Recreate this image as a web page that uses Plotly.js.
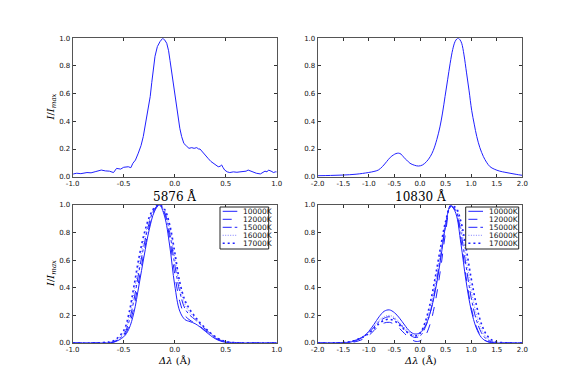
<!DOCTYPE html>
<html>
<head>
<meta charset="utf-8">
<script src="https://cdn.plot.ly/plotly-3.0.1.min.js"></script>
<style>html,body{margin:0;padding:0;background:#fff;}#chart{width:580px;height:382px;}</style>
</head>
<body>
<div id="chart"></div>
<script>
// ---- Data ----
// Top-left: observed He I 5876 profile
const obs5876X = [-1.0,-0.994,-0.96,-0.92,-0.86,-0.82,-0.78,-0.75,-0.72,-0.68,-0.64,-0.60,-0.57,-0.53,-0.50,-0.455,-0.43,-0.41,-0.385,-0.357,-0.33,-0.308,-0.285,-0.26,-0.24,-0.225,-0.21,-0.193,-0.17,-0.144,-0.118,-0.10,-0.078,-0.06,-0.046,-0.02,0.003,0.02,0.035,0.05,0.068,0.09,0.118,0.14,0.167,0.19,0.216,0.235,0.248,0.265,0.28,0.30,0.33,0.355,0.38,0.40,0.427,0.445,0.46,0.475,0.49,0.515,0.54,0.575,0.61,0.64,0.67,0.70,0.72,0.745,0.77,0.80,0.84,0.865,0.885,0.905,0.92,0.945,0.97,0.985,1.0];
const obs5876Y = [0.015,0.02,0.025,0.022,0.03,0.028,0.036,0.04,0.048,0.042,0.04,0.03,0.06,0.055,0.068,0.072,0.065,0.097,0.12,0.17,0.225,0.29,0.38,0.48,0.58,0.68,0.77,0.87,0.94,0.976,1.0,0.99,0.964,0.91,0.84,0.71,0.58,0.48,0.41,0.35,0.29,0.24,0.22,0.205,0.21,0.205,0.21,0.2,0.2,0.185,0.17,0.15,0.13,0.11,0.097,0.085,0.072,0.075,0.085,0.065,0.048,0.035,0.03,0.035,0.032,0.035,0.036,0.04,0.048,0.04,0.03,0.025,0.02,0.03,0.04,0.035,0.048,0.04,0.03,0.035,0.035];

// Top-right: observed He I 10830 profile
const obs10830X = [-2.0,-1.75,-1.5,-1.25,-1.01,-0.9,-0.815,-0.73,-0.65,-0.58,-0.52,-0.47,-0.42,-0.37,-0.33,-0.26,-0.195,-0.11,-0.03,0.05,0.13,0.2,0.26,0.33,0.39,0.44,0.49,0.54,0.59,0.64,0.685,0.72,0.75,0.78,0.815,0.86,0.91,0.96,1.01,1.06,1.11,1.17,1.24,1.3,1.37,1.45,1.56,1.66,1.76,1.88,2.0];
const obs10830Y = [0.007,0.009,0.012,0.018,0.03,0.038,0.048,0.075,0.11,0.14,0.157,0.167,0.17,0.163,0.145,0.12,0.097,0.083,0.077,0.085,0.11,0.145,0.19,0.27,0.36,0.46,0.58,0.70,0.82,0.92,0.976,0.995,1.0,0.99,0.964,0.88,0.75,0.62,0.48,0.38,0.29,0.21,0.145,0.105,0.072,0.055,0.04,0.032,0.025,0.017,0.01];

// Bottom-left: model profiles 5876
const mod5876X = [-1.0,-0.7,-0.6,-0.5,-0.45,-0.4,-0.35,-0.3,-0.25,-0.2,-0.15,-0.1,-0.05,0.0,0.05,0.1,0.15,0.2,0.25,0.3,0.35,0.4,0.45,0.5,0.6,0.7,1.0];
const m5876_10000 = [0,0,0.005,0.045,0.1,0.22,0.42,0.63,0.82,0.95,1.0,0.92,0.71,0.42,0.23,0.17,0.155,0.14,0.115,0.085,0.055,0.03,0.014,0.005,0.001,0,0];
const m5876_12000 = [0,0.001,0.007,0.05,0.12,0.26,0.46,0.66,0.84,0.96,1.0,0.94,0.76,0.5,0.3,0.2,0.165,0.145,0.12,0.09,0.06,0.035,0.017,0.007,0.001,0,0];
const m5876_15000 = [0,0.002,0.009,0.06,0.15,0.31,0.52,0.71,0.87,0.97,1.0,0.95,0.8,0.57,0.37,0.25,0.2,0.17,0.135,0.1,0.068,0.04,0.02,0.009,0.002,0,0];
const m5876_16000 = [0,0.003,0.012,0.075,0.18,0.36,0.57,0.75,0.89,0.975,1.0,0.96,0.83,0.62,0.41,0.28,0.22,0.18,0.14,0.105,0.07,0.043,0.022,0.01,0.002,0,0];
const m5876_17000 = [0,0.004,0.016,0.09,0.21,0.41,0.62,0.79,0.91,0.98,1.0,0.97,0.86,0.66,0.44,0.31,0.24,0.19,0.145,0.108,0.073,0.045,0.024,0.011,0.002,0,0];

// Bottom-right: model profiles 10830
const mod10830X = [-2.0,-1.5,-1.3,-1.1,-1.0,-0.9,-0.8,-0.7,-0.6,-0.5,-0.4,-0.3,-0.2,-0.1,0.0,0.1,0.2,0.3,0.4,0.5,0.6,0.7,0.8,0.9,1.0,1.1,1.2,1.3,1.4,1.5,1.7,2.0];
const m10830_10000 = [0,0.002,0.012,0.05,0.085,0.135,0.19,0.23,0.24,0.22,0.18,0.13,0.085,0.065,0.075,0.12,0.22,0.38,0.6,0.85,1.0,0.94,0.72,0.45,0.24,0.11,0.04,0.012,0.003,0,0,0];
const m10830_12000 = [0,0.001,0.006,0.03,0.055,0.09,0.125,0.145,0.15,0.135,0.105,0.068,0.035,0.013,0.015,0.05,0.14,0.3,0.53,0.8,0.99,0.95,0.75,0.48,0.26,0.12,0.045,0.014,0.004,0.001,0,0];
const m10830_15000 = [0,0.003,0.014,0.045,0.075,0.115,0.155,0.18,0.19,0.175,0.14,0.1,0.06,0.04,0.05,0.11,0.22,0.4,0.62,0.85,0.99,0.96,0.8,0.56,0.33,0.17,0.075,0.028,0.009,0.002,0,0];
const m10830_16000 = [0,0.004,0.017,0.05,0.08,0.12,0.165,0.19,0.2,0.185,0.15,0.11,0.072,0.05,0.065,0.135,0.26,0.44,0.66,0.87,0.99,0.97,0.84,0.62,0.39,0.21,0.1,0.04,0.014,0.004,0,0];
const m10830_17000 = [0,0.004,0.016,0.045,0.07,0.105,0.14,0.165,0.172,0.16,0.13,0.095,0.065,0.05,0.07,0.15,0.29,0.48,0.69,0.88,0.99,0.98,0.88,0.69,0.47,0.28,0.14,0.06,0.022,0.007,0.001,0];

const seriesNames = ["10000K","12000K","15000K","16000K","17000K"];
const yTickVals = [0,0.2,0.4,0.6,0.8,1.0];
const yTickText = ["0.0","0.2","0.4","0.6","0.8","1.0"];
const xTickValsNarrow = [-1.0,-0.5,0.0,0.5,1.0];
const xTickTextNarrow = ["-1.0","-0.5","0.0","0.5","1.0"];
const xTickValsWide = [-2.0,-1.5,-1.0,-0.5,0.0,0.5,1.0,1.5,2.0];
const xTickTextWide = ["-2.0","-1.5","-1.0","-0.5","0.0","0.5","1.0","1.5","2.0"];

// ---- Styling ----
const BLUE = "#2020ff";
const dashes = ["solid","dash","dashdot","1px,1.5px","2px,3px"];
const widths = [1,1,1,0.9,1.6];
const colors = [BLUE,BLUE,BLUE,"#7070ff",BLUE];
const m5876 = [m5876_10000,m5876_12000,m5876_15000,m5876_16000,m5876_17000];
const m10830 = [m10830_10000,m10830_12000,m10830_15000,m10830_16000,m10830_17000];

const traces = [];
traces.push({x: obs5876X, y: obs5876Y, xaxis:"x", yaxis:"y", mode:"lines", line:{color:BLUE,width:1}, showlegend:false});
traces.push({x: obs10830X, y: obs10830Y, xaxis:"x2", yaxis:"y2", mode:"lines", line:{color:BLUE,width:1,shape:"spline"}, showlegend:false});
for (let i=0;i<5;i++){
  traces.push({x: mod5876X, y: m5876[i], xaxis:"x3", yaxis:"y3", mode:"lines", name: seriesNames[i],
    line:{color:colors[i],width:widths[i],dash:dashes[i],shape:"spline"}, showlegend:false});
}
for (let i=0;i<5;i++){
  traces.push({x: mod10830X, y: m10830[i], xaxis:"x4", yaxis:"y4", mode:"lines", name: seriesNames[i],
    line:{color:colors[i],width:widths[i],dash:dashes[i],shape:"spline"}, showlegend:false});
}

const W=580, H=382;
const px = v => v/W, py = v => 1 - v/H;
const tickFont = {family:"DejaVu Sans", size:7, color:"#111"};
function xax(domain, range, tv, tt, anchor){
  return {domain, range, anchor, tickvals:tv, ticktext:tt, ticks:"inside", ticklen:3, tickcolor:"#333",
    showline:true, linecolor:"#555", linewidth:1, mirror:"ticks", showgrid:false, zeroline:false,
    tickfont:tickFont, fixedrange:true};
}
function yax(domain, anchor){
  return {domain, range:[0,1], anchor, tickvals:yTickVals, ticktext:yTickText, ticks:"inside", ticklen:3, tickcolor:"#333",
    showline:true, linecolor:"#555", linewidth:1, mirror:"ticks", showgrid:false, zeroline:false,
    tickfont:tickFont, fixedrange:true};
}
const dxL = [px(72.7), px(276.7)], dxR = [px(317.7), px(522.3)];
const dyT = [py(176.7), py(38.3)], dyB = [py(343), py(205)];

const serif = "DejaVu Serif";
const ylab = "<i>I</i>/<i>I</i><sub><i>max</i></sub>";
const annotations = [
  {text:"5876 Å", x:px(174.7), y:py(196), xref:"paper", yref:"paper", showarrow:false, xanchor:"center", yanchor:"middle", font:{family:serif,size:12,color:"#000"}},
  {text:"10830 Å", x:px(420), y:py(196), xref:"paper", yref:"paper", showarrow:false, xanchor:"center", yanchor:"middle", font:{family:serif,size:12,color:"#000"}},
  {text:ylab, x:px(51), y:py(107.5), xref:"paper", yref:"paper", showarrow:false, textangle:-90, xanchor:"center", yanchor:"middle", font:{family:serif,size:10,color:"#000"}},
  {text:ylab, x:px(51), y:py(274), xref:"paper", yref:"paper", showarrow:false, textangle:-90, xanchor:"center", yanchor:"middle", font:{family:serif,size:10,color:"#000"}},
  {text:"<i>Δλ</i> (Å)", x:px(174.7), y:py(360), xref:"paper", yref:"paper", showarrow:false, xanchor:"center", yanchor:"middle", font:{family:serif,size:10,color:"#000"}},
  {text:"<i>Δλ</i> (Å)", x:px(420), y:py(360), xref:"paper", yref:"paper", showarrow:false, xanchor:"center", yanchor:"middle", font:{family:serif,size:10,color:"#000"}}
];
const shapes = [];
// Custom compact legends (matplotlib style) for the two model panels
const legendBoxes = [{x0:220, x1:268.7, sx0:222.7, sx1:237.3, tx:240.5}, {x0:465.7, x1:518.7, sx0:468.4, sx1:483, tx:486.5}];
const rowY = [211.3, 219.3, 227.3, 235.3, 243.3];
legendBoxes.forEach(b => {
  shapes.push({type:"rect", xref:"paper", yref:"paper", x0:px(b.x0), x1:px(b.x1), y0:py(249), y1:py(207),
    line:{color:"#222", width:1}, fillcolor:"#fff", layer:"above"});
  for (let i=0;i<5;i++){
    shapes.push({type:"line", xref:"paper", yref:"paper", x0:px(b.sx0), x1:px(b.sx1), y0:py(rowY[i]), y1:py(rowY[i]),
      line:{color:colors[i], width:widths[i], dash:dashes[i]}, layer:"above"});
    annotations.push({text:seriesNames[i], x:px(b.tx), y:py(rowY[i]), xref:"paper", yref:"paper", showarrow:false,
      xanchor:"left", yanchor:"middle", font:{family:"DejaVu Sans", size:7.5, color:"#111"}});
  }
});

const layout = {
  width:W, height:H, margin:{l:0,r:0,t:0,b:0}, paper_bgcolor:"#fff", plot_bgcolor:"#fff", showlegend:false,
  xaxis: xax(dxL,[-1,1],xTickValsNarrow,xTickTextNarrow,"y"),
  yaxis: yax(dyT,"x"),
  xaxis2: xax(dxR,[-2,2],xTickValsWide,xTickTextWide,"y2"),
  yaxis2: yax(dyT,"x2"),
  xaxis3: xax(dxL,[-1,1],xTickValsNarrow,xTickTextNarrow,"y3"),
  yaxis3: yax(dyB,"x3"),
  xaxis4: xax(dxR,[-2,2],xTickValsWide,xTickTextWide,"y4"),
  yaxis4: yax(dyB,"x4"),
  shapes, annotations
};
Plotly.newPlot("chart", traces, layout, {staticPlot:true, displayModeBar:false});
</script>
</body>
</html>
